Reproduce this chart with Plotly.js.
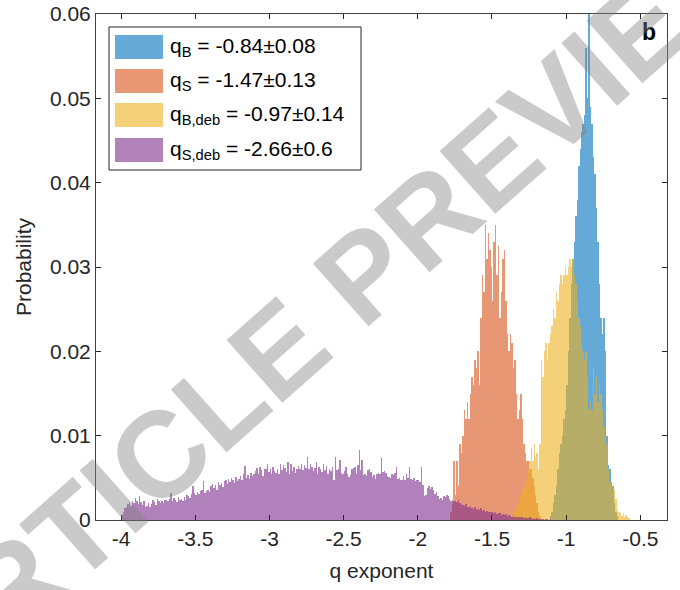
<!DOCTYPE html>
<html><head><meta charset="utf-8">
<script src="https://cdn.plot.ly/plotly-3.0.1.min.js"></script>
<style>html,body{margin:0;padding:0;background:#fff}#chart{width:680px;height:590px}</style>
</head><body><div id="chart"></div><script>
// ---- data (histogram bin probabilities, bin width 0.01) ----
const binWidth = 0.01;

const blueStart = -1.11;   // q_B
const blueProb = [
  0.0005,0.001,0.002,0.003,0.004,0.006,0.008,0.009,0.010,0.012,
  0.013,0.016,0.020,0.024,0.028,0.031,0.033,0.036,0.038,0.042,
  0.044,0.046,0.047,0.048,0.056,0.050,0.062,0.049,0.047,0.043,
  0.041,0.037,0.033,0.028,0.024,0.022,0.024,0.020,0.010,0.0065,
  0.006,0.0045,0.004,0.002,0.001,0.0005
];

const orangeStart = -1.78; // q_S
const orangeProb = [
  0.001,0.002,0.007,0.003,0.007,0.004,0.009,0.008,0.010,0.013,
  0.012,0.014,0.012,0.015,0.017,0.016,0.019,0.018,0.020,0.016,
  0.024,0.029,0.027,0.035,0.031,0.034,0.032,0.030,0.026,0.033,
  0.035,0.029,0.0325,0.024,0.027,0.031,0.032,0.026,0.022,0.020,
  0.022,0.021,0.018,0.019,0.015,0.012,0.013,0.015,0.012,0.009,
  0.008,0.007,0.007,0.006,0.006,0.005,0.004,0.003,0.002,0.001,
  0.0005
];

const yellowStart = -1.36; // q_B,deb
const yellowProb = [
  0.0005,0.001,0.0015,0.002,0.0025,0.003,0.0035,0.004,0.0045,0.005,
  0.006,0.007,0.0085,0.007,0.009,0.0075,0.008,0.006,0.009,0.019,
  0.017,0.020,0.021,0.019,0.021,0.022,0.023,0.025,0.024,0.027,
  0.026,0.028,0.029,0.028,0.029,0.030,0.029,0.030,0.031,0.030,
  0.031,0.029,0.028,0.026,0.024,0.023,0.021,0.020,0.019,0.020,
  0.017,0.013,0.014,0.013,0.018,0.015,0.017,0.014,0.016,0.015,
  0.013,0.011,0.010,0.009,0.006,0.0045,0.0044,0.004,0.0036,0.0025,
  0.0012,0.001,0.0008,0.0005,0.0008,0.0003,0.0006,0.0003,0.0002
];

const purpleStart = -4.00; // q_S,deb
const purpleProb = [
  0.0006,0.0010,0.0014,0.0015,0.0019,0.0021,0.0017,0.0023,0.0020,0.0026,
  0.0022,0.0019,0.0028,0.0021,0.0018,0.0022,0.0015,0.0017,0.0020,0.0016,
  0.0019,0.0024,0.0021,0.0018,0.0025,0.0022,0.0020,0.0023,0.0020,0.0024,
  0.0024,0.0022,0.0025,0.0032,0.0023,0.0026,0.0024,0.0021,0.0027,0.0024,
  0.0025,0.0023,0.0027,0.0024,0.0030,0.0028,0.0026,0.0031,0.0040,0.0032,
  0.0030,0.0033,0.0031,0.0034,0.0035,0.0046,0.0032,0.0034,0.0036,0.0033,
  0.0040,0.0043,0.0038,0.0042,0.0036,0.0045,0.0041,0.0044,0.0039,0.0046,
  0.0047,0.0043,0.0049,0.0045,0.0050,0.0048,0.0044,0.0051,0.0046,0.0049,
  0.0052,0.0048,0.0055,0.0064,0.0050,0.0053,0.0049,0.0056,0.0052,0.0054,
  0.0058,0.0062,0.0055,0.0063,0.0059,0.0052,0.0061,0.0060,0.0066,0.0057,
  0.0060,0.0055,0.0063,0.0058,0.0056,0.0061,0.0054,0.0067,0.0059,0.0065,
  0.0062,0.0057,0.0069,0.0055,0.0066,0.0058,0.0063,0.0056,0.0060,0.0064,
  0.0061,0.0066,0.0059,0.0065,0.0062,0.0075,0.0060,0.0067,0.0063,0.0058,
  0.0062,0.0069,0.0055,0.0063,0.0060,0.0057,0.0066,0.0059,0.0064,0.0055,
  0.0060,0.0058,0.0063,0.0047,0.0075,0.0059,0.0061,0.0071,0.0056,0.0054,
  0.0058,0.0063,0.0055,0.0051,0.0053,0.0061,0.0062,0.0063,0.0055,0.0065,
  0.0083,0.0059,0.0071,0.0053,0.0054,0.0052,0.0059,0.0060,0.0057,0.0051,
  0.0053,0.0049,0.0055,0.0056,0.0054,0.0073,0.0057,0.0058,0.0056,0.0052,
  0.0051,0.0050,0.0055,0.0053,0.0056,0.0063,0.0049,0.0050,0.0048,0.0047,
  0.0052,0.0048,0.0055,0.0050,0.0063,0.0049,0.0047,0.0050,0.0046,0.0048,
  0.0047,0.0045,0.0063,0.0041,0.0029,0.0030,0.0038,0.0040,0.0037,0.0039,
  0.0036,0.0031,0.0033,0.0029,0.0025,0.0026,0.0024,0.0029,0.0027,0.0030,
  0.0028,0.0025,0.0023,0.0024,0.0022,0.0023,0.0021,0.0024,0.0020,0.0019,
  0.0018,0.0017,0.0019,0.0016,0.0015,0.0017,0.0014,0.0013,0.0015,0.0012,
  0.0013,0.0012,0.0014,0.0011,0.0012,0.0010,0.0011,0.0009,0.0010,0.0009,
  0.0010,0.0008,0.0009,0.0007,0.0008,0.0008,0.0006,0.0007,0.0006,0.0007,
  0.0005,0.0006,0.0005,0.0004,0.0005,0.0004,0.0004,0.0003,0.0004,0.0003,
  0.0003,0.0002,0.0003,0.0002,0.0002,0.0003,0.0002,0.0001,0.0002,0.0001,
  0.0002,0.0001,0.0001,0.0001,0.0001,0.0000,0.0001,0.0001,0.0000,0.0001
];

const seriesNames = [
  'q<sub>B</sub> = -0.84±0.08',
  'q<sub>S</sub> = -1.47±0.13',
  'q<sub>B,deb</sub> = -0.97±0.14',
  'q<sub>S,deb</sub> = -2.66±0.6'
];
const seriesColors = ['rgb(0,114,189)','rgb(217,83,25)','rgb(237,177,32)','rgb(126,47,142)'];

const xTickVals = [-4,-3.5,-3,-2.5,-2,-1.5,-1,-0.5];
const xTickText = ['-4','-3.5','-3','-2.5','-2','-1.5','-1','-0.5'];
const yTickVals = [0,0.01,0.02,0.03,0.04,0.05,0.06];
const yTickText = ['0','0.01','0.02','0.03','0.04','0.05','0.06'];

const panelLabel = 'b';
const watermark = 'ARTICLE PREVIEW';

// ---- build ----
function centers(start, arr){ return arr.map((_, i) => start + (i + 0.5) * binWidth); }
const starts = [blueStart, orangeStart, yellowStart, purpleStart];
const probs = [blueProb, orangeProb, yellowProb, purpleProb];

const traces = probs.map((p, k) => ({
  type: 'bar', x: centers(starts[k], p), y: p, width: binWidth,
  name: seriesNames[k], opacity: 0.6,
  marker: {color: seriesColors[k], line: {width: 0}},
  showlegend: false, hoverinfo: 'skip'
}));

const W = 680, H = 590;
const mL = 96, mR = 13, mT = 14, mB = 70;
const pL = mL, pR = W - mR, pT = mT, pB = H - mB;
const fx = v => (v - pL) / (pR - pL);
const fy = v => (pB - v) / (pB - pT);

const shapes = [];
const annotations = [];
// legend box
shapes.push({type:'rect', xref:'paper', yref:'paper', x0:fx(109), x1:fx(361), y0:fy(170), y1:fy(27),
  line:{color:'#262626', width:1}, fillcolor:'#ffffff', layer:'above'});
const rowY = [47, 81, 115, 150];
seriesNames.forEach((n, k) => {
  shapes.push({type:'rect', xref:'paper', yref:'paper', x0:fx(115), x1:fx(163), y0:fy(rowY[k]+12), y1:fy(rowY[k]-12),
    line:{width:0}, fillcolor:seriesColors[k], opacity:0.6, layer:'above'});
  annotations.push({xref:'paper', yref:'paper', x:fx(168), y:fy(rowY[k]), xanchor:'left', yanchor:'middle',
    text:n, showarrow:false, font:{family:'Liberation Sans, Arial, sans-serif', size:21, color:'#000'}});
});
annotations.push({xref:'paper', yref:'paper', x:fx(658), y:fy(32), xanchor:'right', yanchor:'middle',
  text:'<b>'+panelLabel+'</b>', showarrow:false, font:{family:'Liberation Sans, Arial, sans-serif', size:23, color:'#000'}});
annotations.push({xref:'paper', yref:'paper', x:fx(335), y:fy(300), xanchor:'center', yanchor:'middle',
  text:'<b>'+watermark+'</b>', textangle:-41.6, showarrow:false,
  font:{family:'Liberation Sans, Arial, sans-serif', size:122, color:'rgba(128,128,128,0.42)'}});

const axisFont = {family:'Liberation Sans, Arial, sans-serif', size:21, color:'#262626'};
const layout = {
  width: W, height: H,
  margin: {l:mL, r:mR, t:mT, b:mB, pad:0},
  paper_bgcolor:'#fff', plot_bgcolor:'#fff',
  barmode:'overlay', bargap:0,
  showlegend:false,
  xaxis: {range:[-4.17,-0.32], tickvals:xTickVals, ticktext:xTickText,
    ticks:'inside', ticklen:5, tickcolor:'#262626', showline:true, linecolor:'#404040', linewidth:1,
    mirror:'ticks', showgrid:false, zeroline:false, tickfont:axisFont,
    title:{text:'q exponent', font:axisFont, standoff:14}},
  yaxis: {range:[0,0.06], tickvals:yTickVals, ticktext:yTickText,
    ticks:'inside', ticklen:5, tickcolor:'#262626', showline:true, linecolor:'#404040', linewidth:1,
    mirror:'ticks', showgrid:false, zeroline:false, tickfont:axisFont,
    title:{text:'Probability', font:axisFont, standoff:12}},
  shapes: shapes, annotations: annotations
};
Plotly.newPlot('chart', traces, layout, {staticPlot:true, displayModeBar:false});
</script></body></html>
